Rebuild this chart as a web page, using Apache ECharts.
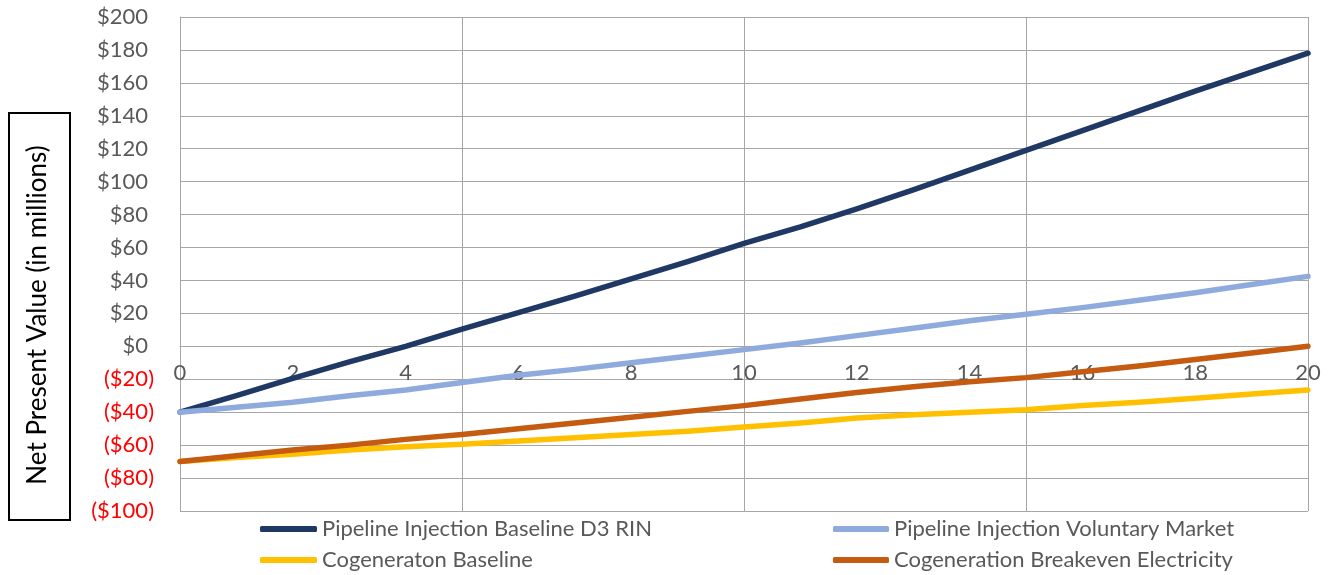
<!DOCTYPE html>
<html>
<head>
<meta charset="utf-8">
<script src="https://cdn.jsdelivr.net/npm/echarts@6/dist/echarts.min.js"></script>
<style>
  html, body { margin: 0; padding: 0; background: #fff; }
  #chart { width: 1335px; height: 575px; }
</style>
</head>
<body>
<div id="chart"></div>
<script>
// Project year (x) and net present value in $ millions (y) per scenario
const years = [0, 1, 2, 3, 4, 5, 6, 7, 8, 9, 10, 11, 12, 13, 14, 15, 16, 17, 18, 19, 20];
const pipelineD3Rin = [-40, -30, -19.5, -9.5, 0, 10.5, 20.5, 30.5, 41, 51.5, 62.5, 72.5, 83.5, 95, 107, 119, 131, 143, 155, 166.5, 178];
const pipelineVoluntary = [-40, -37, -34, -30, -26.5, -22, -17.5, -14, -10, -6, -2, 2, 6.5, 11, 15.5, 19.5, 23.5, 28, 32.5, 37.5, 42.5];
const cogenBaseline = [-70, -67.5, -65.5, -63, -61, -59.5, -57.5, -55.5, -53.5, -51.5, -49, -46.5, -43.5, -41.5, -40, -38.5, -36, -34, -31.5, -29, -26.5];
const cogenBreakeven = [-70, -66.5, -63, -60, -56.5, -53.5, -50, -46.5, -43, -39.5, -36, -32, -28, -24.5, -21.5, -19, -15.5, -12, -8, -4, 0];

const seriesNames = [
  'Pipeline Injection Baseline D3 RIN',
  'Pipeline Injection Voluntary Market',
  'Cogeneraton Baseline',
  'Cogeneration Breakeven Electricity'
];
const seriesValues = [pipelineD3Rin, pipelineVoluntary, cogenBaseline, cogenBreakeven];
const seriesColors = ['#1F3864', '#8FAADC', '#FFC000', '#C55A11'];

const FONT = 'Lato';
const TEXT = '#595959';
const GRID = '#A6A6A6';

// Plot area: y from -100 (bottom) to 200 (top); the year axis sits on the $0 line
const PLOT_TOP = 17, PLOT_BOTTOM = 64, CHART_H = 575;
const Y_MIN = -100, Y_MAX = 200;
const plotH = CHART_H - PLOT_TOP - PLOT_BOTTOM;
const zeroOffset = -plotH * (0 - Y_MIN) / (Y_MAX - Y_MIN);

function pairs(values) {
  return years.map((y, i) => [y, values[i]]);
}

function moneyLabel(v) {
  if (v < 0) return '{neg|($' + Math.abs(v) + ')}';
  return '{pos|$' + v + '}';
}

const chart = echarts.init(document.getElementById('chart'), null, { renderer: 'canvas' });

const legendText = { color: TEXT, fontFamily: FONT, fontSize: 22 };

chart.setOption({
  animation: false,
  backgroundColor: '#fff',
  grid: { left: 180, right: 27, top: PLOT_TOP, bottom: PLOT_BOTTOM, containLabel: false },
  xAxis: [
    {
      type: 'value', min: 0, max: 20, interval: 2, position: 'bottom', offset: zeroOffset,
      axisLine: { show: true, onZero: false, lineStyle: { color: GRID, width: 1 } },
      axisTick: { show: false },
      splitLine: { show: false },
      axisLabel: { color: TEXT, fontFamily: FONT, fontSize: 22, margin: 16, showMinLabel: true, showMaxLabel: true }
    },
    {
      type: 'value', min: 0, max: 20, interval: 5, position: 'top',
      axisLine: { show: false }, axisTick: { show: false }, axisLabel: { show: false },
      splitLine: { show: true, lineStyle: { color: GRID, width: 1 } }
    }
  ],
  yAxis: {
    type: 'value', min: Y_MIN, max: Y_MAX, interval: 20,
    axisLine: { show: true, lineStyle: { color: GRID } },
    axisTick: { show: false },
    splitLine: { show: true, lineStyle: { color: GRID, width: 1 } },
    axisLabel: {
      margin: 26, fontFamily: FONT, fontSize: 22,
      formatter: moneyLabel,
      rich: {
        pos: { color: TEXT, fontFamily: FONT, fontSize: 22, padding: [0, 6, 0, 0] },
        neg: { color: '#FF0000', fontFamily: FONT, fontSize: 22 }
      }
    }
  },
  legend: [
    {
      left: 260, top: 518, orient: 'vertical', itemGap: 9, padding: 0,
      icon: 'roundRect', itemWidth: 57, itemHeight: 6,
      data: [seriesNames[0], seriesNames[2]],
      textStyle: legendText
    },
    {
      left: 833, top: 518, orient: 'vertical', itemGap: 9, padding: 0,
      icon: 'roundRect', itemWidth: 56, itemHeight: 6,
      data: [seriesNames[1], seriesNames[3]],
      textStyle: legendText
    }
  ],
  graphic: [
    {
      type: 'rect', left: 8, top: 112,
      shape: { width: 61, height: 407 },
      style: { fill: '#fff', stroke: '#000', lineWidth: 2 }
    },
    {
      type: 'text', x: 38, y: 315, rotation: Math.PI / 2,
      style: {
        text: 'Net Present Value (in millions)',
        fill: '#000', fontFamily: FONT, fontSize: 26,
        align: 'center', verticalAlign: 'middle'
      }
    }
  ],
  series: seriesNames.map((name, i) => ({
    name: name,
    type: 'line',
    xAxisIndex: 0,
    data: pairs(seriesValues[i]),
    symbol: 'none',
    smooth: false,
    lineStyle: { color: seriesColors[i], width: 5.5, cap: 'round', join: 'round' },
    itemStyle: { color: seriesColors[i] },
    z: 3
  }))
});
</script>
</body>
</html>
